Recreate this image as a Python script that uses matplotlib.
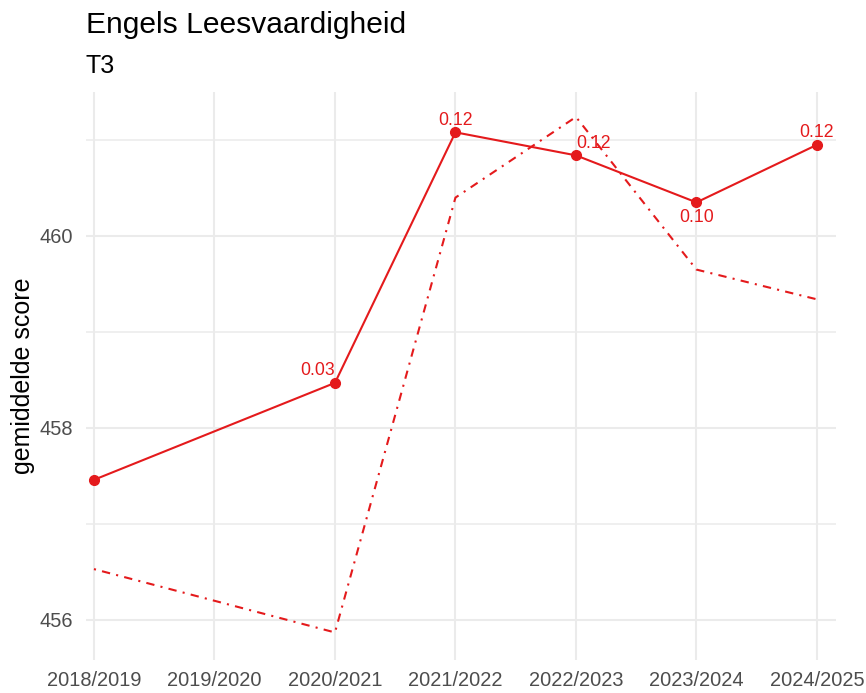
import matplotlib
matplotlib.use("Agg")
import matplotlib.pyplot as plt
from matplotlib.ticker import MultipleLocator

plt.rcParams['font.family'] = ['Liberation Sans', 'DejaVu Sans']

# data
jaren = ["2018/2019", "2019/2020", "2020/2021", "2021/2022",
         "2022/2023", "2023/2024", "2024/2025"]
# solid line (school), 2019/2020 has no measurement
school_x = [0, 2, 3, 4, 5, 6]
school_score = [457.46, 458.47, 461.08, 460.84, 460.35, 460.95]
# dash-dot line (referentie)
ref_x = [0, 2, 3, 4, 5, 6]
ref_score = [456.53, 455.87, 460.40, 461.24, 459.65, 459.34]
# effect size labels at the school points
labels = ["", "0.03", "0.12", "0.12", "0.10", "0.12"]
label_ha = ["center", "right", "center", "left", "center", "center"]
label_va = ["bottom", "bottom", "bottom", "bottom", "top", "bottom"]

rood = "#E41A1C"
grid = "#EBEBEB"

fig = plt.figure(figsize=(8.66, 6.93), dpi=100)
ax = fig.add_axes([86/866, 1 - 660/693, (836 - 86)/866, (660 - 92)/693])

ax.plot(ref_x, ref_score, color=rood, lw=1.5, linestyle=(0, (1, 3, 4, 3)), zorder=3)
ax.plot(school_x, school_score, color=rood, lw=1.5, marker="o", markersize=7, zorder=4)

for x, y, t, ha, va in zip(school_x, school_score, labels, label_ha, label_va):
    if not t:
        continue
    dy = 2.5 if va == "bottom" else -5
    ax.annotate(t, (x, y), xytext=(0, dy), textcoords="offset points",
                ha=ha, va=va, color=rood, fontsize=12.7)

ax.set_xlim(-0.066, 6.158)
ax.set_ylim(455.583, 461.5)
ax.set_xticks(range(len(jaren)))
ax.set_xticklabels(jaren)
ax.set_yticks([456, 458, 460])
ax.yaxis.set_minor_locator(MultipleLocator(1))

ax.grid(True, which="major", color=grid, lw=1.5)
ax.grid(True, which="minor", axis="y", color=grid, lw=1.1)
ax.set_axisbelow(True)
for s in ax.spines.values():
    s.set_visible(False)
ax.tick_params(which="both", length=0)
ax.tick_params(axis="x", pad=8, labelsize=14.4, labelcolor="#4D4D4D")
ax.tick_params(axis="y", pad=9, labelsize=14.4, labelcolor="#4D4D4D")

fig.text(86/866, 1 - 33/693, "Engels Leesvaardigheid", fontsize=21.6, va="baseline", ha="left")
fig.text(86/866, 1 - 73/693, "T3", fontsize=18, va="baseline", ha="left")
fig.text(23/866, 1 - 376/693, "gemiddelde score", fontsize=18, rotation=90, ha="center", va="center")

fig.savefig("out.png", dpi=100, facecolor="white")
